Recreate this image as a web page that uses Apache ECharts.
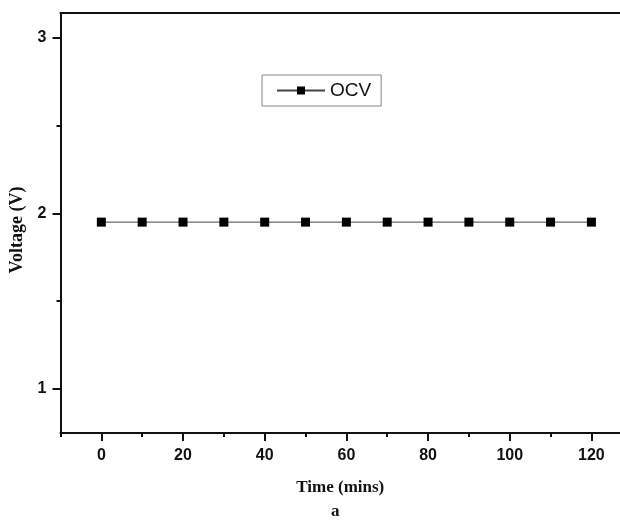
<!DOCTYPE html>
<html>
<head>
<meta charset="utf-8">
<script src="https://cdn.jsdelivr.net/npm/echarts@6/dist/echarts.min.js"></script>
<style>html,body{margin:0;padding:0;background:#fff}#c{width:620px;height:520px}</style>
</head>
<body>
<div id="c"></div>
<script>
const times = [0, 10, 20, 30, 40, 50, 60, 70, 80, 90, 100, 110, 120];
const ocv = [1.95, 1.95, 1.95, 1.95, 1.95, 1.95, 1.95, 1.95, 1.95, 1.95, 1.95, 1.95, 1.95];
const xMajorTicks = [0, 20, 40, 60, 80, 100, 120];
const xMinorTicks = [-10, 10, 30, 50, 70, 90, 110];
const yMajorTicks = [1, 2, 3];
const yMinorTicks = [1.5, 2.5];
const seriesName = 'OCV';
const xTitle = 'Time (mins)';
const yTitle = 'Voltage (V)';
const caption = 'a';

const chart = echarts.init(document.getElementById('c'), null, {renderer: 'canvas'});
const axisLine = {show: true, onZero: false, lineStyle: {color: '#111', width: 2}};
const labelFont = {fontFamily: 'Liberation Sans, Arial', fontWeight: 'bold', fontSize: 16, color: '#111'};
const xRange = {min: -10, max: 127};
const yRange = {min: 0.75, max: 3.14};
chart.setOption({
  animation: false,
  backgroundColor: '#fff',
  grid: {left: 60.5, right: 0, top: 13, bottom: 87, containLabel: false, outerBoundsMode: 'none'},
  legend: {
    left: 262, top: 75, padding: [6, 10, 6, 14],
    borderColor: '#888', borderWidth: 1,
    itemWidth: 48, itemHeight: 10, itemGap: 4,
    textStyle: {fontFamily: 'Liberation Sans, Arial', fontSize: 19, color: '#111'},
    data: [seriesName]
  },
  xAxis: [
    Object.assign({type: 'value', position: 'bottom', axisLine: axisLine,
      name: xTitle, nameLocation: 'middle', nameGap: 46,
      nameTextStyle: {fontFamily: 'Liberation Serif, Times New Roman', fontWeight: 'bold', fontSize: 17, color: '#111'},
      axisTick: {show: true, inside: false, length: 8, lineStyle: {color: '#111', width: 2}, customValues: xMajorTicks},
      axisLabel: Object.assign({show: true, margin: 15, customValues: xMajorTicks}, labelFont),
      splitLine: {show: false}}, xRange),
    Object.assign({type: 'value', position: 'bottom', axisLine: {show: false, onZero: false},
      axisTick: {show: true, length: 4, lineStyle: {color: '#111', width: 2}, customValues: xMinorTicks},
      axisLabel: {show: false}, splitLine: {show: false}}, xRange),
    Object.assign({type: 'value', position: 'top', axisLine: axisLine,
      axisTick: {show: false}, axisLabel: {show: false}, splitLine: {show: false}}, xRange)
  ],
  yAxis: [
    Object.assign({type: 'value', position: 'left', axisLine: axisLine,
      name: yTitle, nameLocation: 'middle', nameGap: 33,
      nameTextStyle: {fontFamily: 'Liberation Serif, Times New Roman', fontWeight: 'bold', fontSize: 18, color: '#111', padding: [0, 14, 0, 0]},
      axisTick: {show: true, length: 8, lineStyle: {color: '#111', width: 2}, customValues: yMajorTicks},
      axisLabel: Object.assign({show: true, margin: 14, customValues: yMajorTicks}, labelFont),
      splitLine: {show: false}}, yRange),
    Object.assign({type: 'value', position: 'left', axisLine: {show: false, onZero: false},
      axisTick: {show: true, length: 4, lineStyle: {color: '#111', width: 2}, customValues: yMinorTicks},
      axisLabel: {show: false}, splitLine: {show: false}}, yRange)
  ],
  graphic: [{
    type: 'text', left: 331, top: 503,
    style: {text: caption, font: 'bold 17px "Liberation Serif", serif', fill: '#111'}
  }],
  series: [{
    name: seriesName, type: 'line',
    xAxisIndex: 0, yAxisIndex: 0,
    data: times.map((t, i) => [t, ocv[i]]),
    symbol: 'rect', symbolSize: 9,
    itemStyle: {color: '#000'},
    lineStyle: {color: '#444', width: 1}
  }]
});
</script>
</body>
</html>
